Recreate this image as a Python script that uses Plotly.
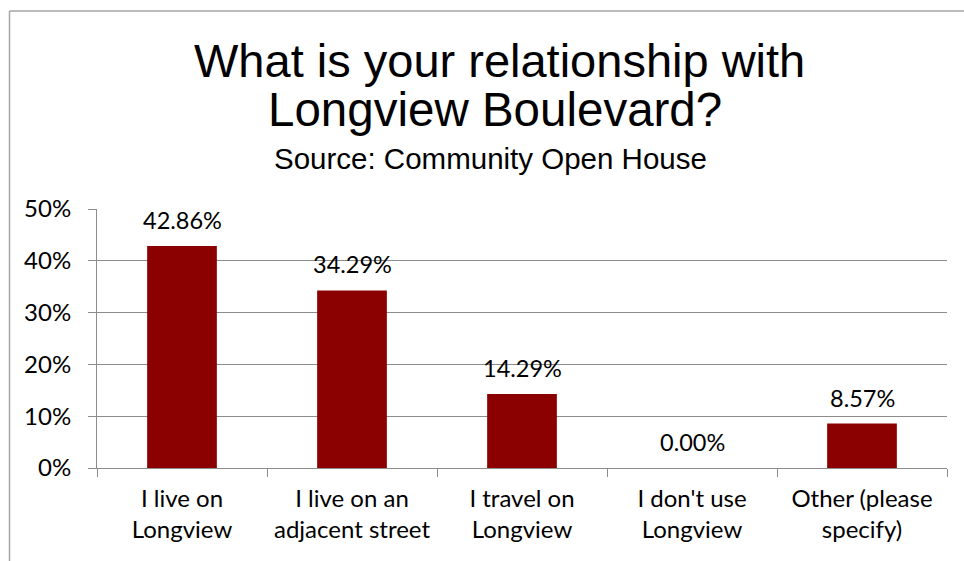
import plotly.graph_objects as go

# Survey responses
categories = ["I live on<br>Longview", "I live on an<br>adjacent street", "I travel on<br>Longview",
              "I don't use<br>Longview", "Other (please<br>specify)"]
shares = [0.4286, 0.3429, 0.1429, 0.0, 0.0857]
y_ticks = [0, 0.1, 0.2, 0.3, 0.4, 0.5]
y_tick_labels = ["0%", "10%", "20%", "30%", "40%", "50%"]

title_line1 = "What is your relationship with"
title_line2 = "Longview Boulevard?"
subtitle = "Source: Community Open House"

BAR = "#8B0000"
GRID = "#8C8C8C"
FRAME = "#A6A6A6"
FONT_FAMILY = "Lato, Carlito, sans-serif"
TICK_FONT = dict(family=FONT_FAMILY, size=24, color="#000000")
LABEL_FONT = dict(family=FONT_FAMILY, size=23.5, color="#000000")
TITLE_FONT = "Liberation Sans, Arial, sans-serif"

fig = go.Figure(
    go.Bar(
        x=categories,
        y=shares,
        marker=dict(color=BAR, line=dict(width=0)),
        width=0.41,
        hoverinfo="skip",
    )
)

# value labels above each bar
for cat, val in zip(categories, shares):
    fig.add_annotation(
        x=cat, y=val, xref="x", yref="y",
        text=f"{val:.2%}", showarrow=False,
        yanchor="bottom", yshift=10,
        font=LABEL_FONT,
    )

# title block
W, H = 964, 561
L, R, T, B = 97, 17, 209, 93
pw, ph = W - L - R, H - T - B


def px(x):
    return (x - L) / pw


def py(y):
    return (H - B - y) / ph


fig.add_annotation(x=px(499), y=py(60), xref="paper", yref="paper", text=title_line1,
                   showarrow=False, yanchor="middle", xanchor="center",
                   font=dict(family=TITLE_FONT, size=47, color="#000000"))
fig.add_annotation(x=px(495), y=py(109), xref="paper", yref="paper", text=title_line2,
                   showarrow=False, yanchor="middle", xanchor="center",
                   font=dict(family=TITLE_FONT, size=47.5, color="#000000"))
fig.add_annotation(x=px(490), y=py(158), xref="paper", yref="paper", text=subtitle,
                   showarrow=False, yanchor="middle", xanchor="center",
                   font=dict(family=TITLE_FONT, size=29.5, color="#000000"))

# chart frame (left and top edges)
fx, fy = px(9.5), py(11)
fig.add_shape(type="line", xref="paper", yref="paper", x0=fx, x1=fx, y0=py(H + 5), y1=fy,
              line=dict(color=FRAME, width=1.5))
fig.add_shape(type="line", xref="paper", yref="paper", x0=fx, x1=px(W + 5), y0=fy, y1=fy,
              line=dict(color=FRAME, width=1.5))

fig.update_layout(
    width=W, height=H,
    margin=dict(l=L, r=R, t=T, b=B, autoexpand=False),
    paper_bgcolor="#FFFFFF", plot_bgcolor="#FFFFFF",
    showlegend=False,
    bargap=0.59,
)
fig.update_xaxes(
    showline=True, linecolor=GRID, linewidth=1,
    ticks="outside", tickson="boundaries", ticklen=8, tickcolor=GRID,
    tickfont=TICK_FONT, ticklabelstandoff=9, showgrid=False, fixedrange=True,
)
fig.update_yaxes(
    range=[0, 0.5], tickvals=y_ticks, ticktext=y_tick_labels,
    showline=True, linecolor=GRID, linewidth=1,
    ticks="outside", ticklen=8, tickcolor=GRID,
    showgrid=True, gridcolor=GRID, gridwidth=1, zeroline=False,
    tickfont=TICK_FONT, ticklabelstandoff=12, fixedrange=True,
)

fig.write_html("out.html")
